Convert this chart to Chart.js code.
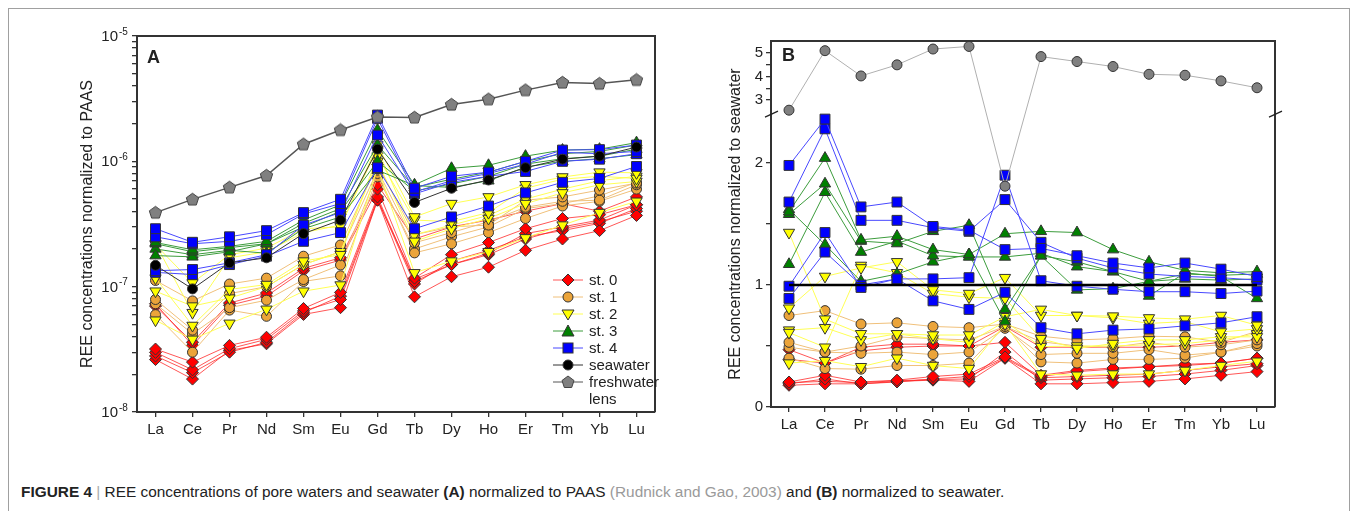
<!DOCTYPE html>
<html>
<head>
<meta charset="utf-8">
<script src="https://cdn.jsdelivr.net/npm/chart.js@4.4.1/dist/chart.umd.min.js"></script>
<style>
  body { margin: 0; background: #fff; width: 1357px; height: 511px; overflow: hidden; position: relative;
         font-family: "Liberation Sans", Arial, sans-serif; color: #222; }
  #frame { position: absolute; left: 8px; top: 8px; width: 1340px; height: 530px; border: 1px solid #a0a0a0; }
  .wrap { position: absolute; }
  #wa { left: 74px; top: 20px; }
  #wb { left: 722px; top: 20px; }
  .tag { position: absolute; font-weight: bold; font-size: 18px; line-height: 18px; }
  #legend { position: absolute; left: 553px; top: 271px; font-size: 15px; line-height: 17px; }
  #legend div { display: flex; align-items: center; height: 17px; }
  #legend svg { margin-right: 6px; flex: none; }
  #legend .pad { padding-left: 36px; }
  #caption { position: absolute; left: 21px; top: 483px; font-size: 15.4px; white-space: nowrap; }
</style>
</head>
<body>
<div id="frame"></div>
<div class="wrap" id="wa"><canvas id="ca" width="596" height="430"></canvas></div>
<div class="wrap" id="wb"><canvas id="cb" width="568" height="425"></canvas></div>
<div class="tag" style="left:147px;top:48px">A</div>
<div class="tag" style="left:782px;top:46px">B</div>

<div id="legend">
  <div><svg width="30" height="14"><line x1="0" y1="7" x2="30" y2="7" stroke="rgba(255,30,30,0.75)"/><polygon points="15,1 21,7 15,13 9,7" fill="#ff0000" stroke="#333"/></svg>st. 0</div>
  <div><svg width="30" height="14"><line x1="0" y1="7" x2="30" y2="7" stroke="#f0c07a"/><circle cx="15" cy="7" r="5" fill="#eba43a" stroke="#333"/></svg>st. 1</div>
  <div><svg width="30" height="14"><line x1="0" y1="7" x2="30" y2="7" stroke="#ffff55"/><polygon points="9,3 21,3 15,13" fill="#ffff00" stroke="#333"/></svg>st. 2</div>
  <div><svg width="30" height="14"><line x1="0" y1="7" x2="30" y2="7" stroke="#3c9c3c"/><polygon points="15,1 21,12 9,12" fill="#008000" stroke="#333"/></svg>st. 3</div>
  <div><svg width="30" height="14"><line x1="0" y1="7" x2="30" y2="7" stroke="#4848ff"/><rect x="10" y="2" width="10" height="10" fill="#0000ff" stroke="#333"/></svg>st. 4</div>
  <div><svg width="30" height="14"><line x1="0" y1="7" x2="30" y2="7" stroke="#333"/><circle cx="15" cy="7" r="5" fill="#000" stroke="#333"/></svg>seawater</div>
  <div><svg width="30" height="14"><line x1="0" y1="7" x2="30" y2="7" stroke="#555"/><polygon points="15,1 21,5.5 18.7,12.5 11.3,12.5 9,5.5" fill="#808080" stroke="#444"/></svg>freshwater</div>
  <div class="pad">lens</div>
</div>

<div id="caption"><b>FIGURE 4</b> <span style="color:#aaa">|</span> REE concentrations of pore waters and seawater <b>(A)</b> normalized to PAAS <span style="color:#9a9a9a">(Rudnick and Gao, 2003)</span> and <b>(B)</b> normalized to seawater.</div>

<script>
const REE = ['La','Ce','Pr','Nd','Sm','Eu','Gd','Tb','Dy','Ho','Er','Tm','Yb','Lu'];

// ---- panel A: normalized to PAAS ----
const st0_A = [
  [7.0e-8, 3.6e-8, 7.4e-8, 8.9e-8, 1.40e-7, 1.70e-7, 6.5e-7, 2.4e-7, 3.0e-7, 3.4e-7, 4.0e-7, 4.6e-7, 4.0e-7, 5.2e-7],
  [7.3e-8, 3.4e-8, 7.1e-8, 8.4e-8, 1.34e-7, 1.63e-7, 6.0e-7, 1.17e-7, 1.8e-7, 2.25e-7, 2.9e-7, 3.5e-7, 3.75e-7, 4.5e-7],
  [3.18e-8, 2.5e-8, 3.4e-8, 3.95e-8, 6.7e-8, 9.0e-8, 5.2e-7, 1.1e-7, 1.5e-7, 1.85e-7, 2.65e-7, 3.0e-7, 3.4e-7, 4.5e-7],
  [2.99e-8, 2.17e-8, 3.2e-8, 3.8e-8, 6.4e-8, 7.9e-8, 4.9e-7, 8.3e-8, 1.2e-7, 1.43e-7, 1.95e-7, 2.4e-7, 2.8e-7, 3.7e-7],
  [2.8e-8, 2.06e-8, 3.0e-8, 3.6e-8, 6.2e-8, 8.4e-8, 5.0e-7, 1.05e-7, 1.6e-7, 1.95e-7, 2.5e-7, 2.8e-7, 3.2e-7, 4.2e-7],
  [2.62e-8, 1.83e-8, 3.1e-8, 3.5e-8, 6.0e-8, 6.8e-8, 4.9e-7, 1.15e-7, 1.5e-7, 1.8e-7, 2.4e-7, 2.9e-7, 3.3e-7, 4.0e-7]
];
const st1_A = [
  [1.12e-7, 7.7e-8, 1.05e-7, 1.17e-7, 1.75e-7, 2.15e-7, 9.5e-7, 2.6e-7, 3.0e-7, 3.1e-7, 4.9e-7, 5.2e-7, 5.9e-7, 6.7e-7],
  [7.9e-8, 4.5e-8, 8.8e-8, 1.0e-7, 1.5e-7, 1.9e-7, 8.5e-7, 2.24e-7, 2.7e-7, 3.3e-7, 4.3e-7, 4.8e-7, 4.9e-7, 6.5e-7],
  [7.3e-8, 4.2e-8, 6.8e-8, 7.8e-8, 1.14e-7, 1.49e-7, 8.0e-7, 1.86e-7, 2.2e-7, 2.7e-7, 3.5e-7, 4.4e-7, 4.8e-7, 6.0e-7],
  [5.98e-8, 3.0e-8, 6.5e-8, 5.8e-8, 1.1e-7, 1.22e-7, 7.5e-7, 2.0e-7, 2.5e-7, 3.0e-7, 4.2e-7, 4.6e-7, 5.3e-7, 6.8e-7]
];
const st2_A = [
  [2.16e-7, 1.07e-7, 1.8e-7, 2.03e-7, 2.9e-7, 3.0e-7, 1.35e-6, 3.6e-7, 4.6e-7, 5.2e-7, 6.5e-7, 7.5e-7, 8.2e-7, 8.1e-7],
  [1.17e-7, 4.9e-8, 9.5e-8, 1.04e-7, 1.6e-7, 1.8e-7, 1.1e-6, 3.4e-7, 3.3e-7, 3.9e-7, 6.1e-7, 7.2e-7, 7.6e-7, 7.3e-7],
  [9.2e-8, 7.0e-8, 8.1e-8, 1.0e-7, 1.5e-7, 1.9e-7, 1.0e-6, 2.3e-7, 2.9e-7, 3.5e-7, 4.6e-7, 5.6e-7, 6.5e-7, 6.9e-7],
  [5.4e-8, 3.8e-8, 5.1e-8, 6.6e-8, 9.2e-8, 1.03e-7, 8.9e-7, 1.29e-7, 1.6e-7, 1.9e-7, 2.45e-7, 3.1e-7, 3.9e-7, 4.8e-7],
  [2.2e-7, 6.2e-8, 1.7e-7, 1.9e-7, 2.7e-7, 3.1e-7, 1.25e-6, 2.6e-7, 3.1e-7, 3.7e-7, 5.0e-7, 6.0e-7, 7.0e-7, 7.6e-7]
];
const st3_A = [
  [2.25e-7, 1.97e-7, 2.1e-7, 2.3e-7, 3.4e-7, 4.5e-7, 1.78e-6, 6.5e-7, 8.8e-7, 9.3e-7, 1.1e-6, 1.23e-6, 1.25e-6, 1.41e-6],
  [2.2e-7, 1.9e-7, 2.05e-7, 2.2e-7, 3.2e-7, 4.2e-7, 1.35e-6, 6.2e-7, 7.2e-7, 8.2e-7, 1.0e-6, 1.15e-6, 1.2e-6, 1.35e-6],
  [1.77e-7, 1.73e-7, 1.9e-7, 2.2e-7, 3.0e-7, 4.0e-7, 1.0e-6, 5.8e-7, 6.6e-7, 7.6e-7, 9.5e-7, 1.05e-6, 1.1e-6, 1.25e-6],
  [2.0e-7, 1.8e-7, 1.95e-7, 1.85e-7, 2.9e-7, 3.6e-7, 8.5e-7, 6.4e-7, 6.2e-7, 7.0e-7, 9.0e-7, 1.0e-6, 1.05e-6, 1.13e-6]
];
const st4_A = [
  [2.9e-7, 2.26e-7, 2.5e-7, 2.8e-7, 3.9e-7, 4.98e-7, 2.34e-6, 6.1e-7, 7.6e-7, 8.2e-7, 1.0e-6, 1.23e-6, 1.24e-6, 1.35e-6],
  [2.5e-7, 2.2e-7, 2.3e-7, 2.6e-7, 3.8e-7, 4.6e-7, 2.2e-6, 5.7e-7, 7.0e-7, 8.0e-7, 9.5e-7, 1.18e-6, 1.15e-6, 1.2e-6],
  [1.34e-7, 1.37e-7, 1.55e-7, 1.8e-7, 3.1e-7, 3.9e-7, 1.62e-6, 5.5e-7, 6.8e-7, 7.6e-7, 8.3e-7, 1.0e-6, 1.04e-6, 1.15e-6],
  [1.3e-7, 1.25e-7, 1.5e-7, 1.75e-7, 2.3e-7, 2.7e-7, 8.9e-7, 2.9e-7, 3.6e-7, 4.4e-7, 5.6e-7, 6.8e-7, 7.3e-7, 9.1e-7]
];
const seawater_A = [1.48e-7, 9.6e-8, 1.55e-7, 1.7e-7, 2.65e-7, 3.4e-7, 1.25e-6, 4.7e-7, 6.1e-7, 7.1e-7, 8.9e-7, 1.04e-6, 1.1e-6, 1.3e-6];
const fresh_A    = [3.9e-7, 4.97e-7, 6.2e-7, 7.7e-7, 1.37e-6, 1.78e-6, 2.26e-6, 2.24e-6, 2.84e-6, 3.13e-6, 3.7e-6, 4.26e-6, 4.17e-6, 4.47e-6];
const A_DECADES  = [-8, -7, -6, -5];

// ---- panel B: normalized to seawater ----
const st0_B = [
  [0.47, 0.36, 0.49, 0.515, 0.515, 0.50, 0.66, 0.49, 0.49, 0.49, 0.49, 0.50, 0.53, 0.55],
  [0.39, 0.36, 0.46, 0.49, 0.50, 0.50, 0.53, 0.26, 0.30, 0.32, 0.33, 0.35, 0.36, 0.40],
  [0.205, 0.26, 0.205, 0.22, 0.25, 0.27, 0.41, 0.25, 0.29, 0.31, 0.33, 0.34, 0.36, 0.40],
  [0.19, 0.23, 0.19, 0.205, 0.23, 0.25, 0.40, 0.24, 0.25, 0.26, 0.27, 0.30, 0.33, 0.355],
  [0.178, 0.19, 0.19, 0.21, 0.22, 0.21, 0.40, 0.19, 0.19, 0.20, 0.21, 0.23, 0.26, 0.29],
  [0.20, 0.21, 0.20, 0.215, 0.225, 0.23, 0.45, 0.22, 0.23, 0.24, 0.25, 0.27, 0.30, 0.34]
];
const st1_B = [
  [0.75, 0.79, 0.68, 0.69, 0.66, 0.65, 0.68, 0.58, 0.55, 0.56, 0.58, 0.575, 0.53, 0.62],
  [0.53, 0.45, 0.50, 0.575, 0.56, 0.55, 0.66, 0.535, 0.50, 0.49, 0.53, 0.49, 0.51, 0.55],
  [0.49, 0.45, 0.44, 0.45, 0.43, 0.45, 0.645, 0.43, 0.44, 0.44, 0.47, 0.425, 0.45, 0.52],
  [0.40, 0.315, 0.31, 0.34, 0.34, 0.36, 0.66, 0.37, 0.36, 0.39, 0.39, 0.40, 0.45, 0.50]
];
const st2_B = [
  [1.43, 0.72, 0.60, 0.60, 0.59, 0.59, 0.74, 0.80, 0.75, 0.745, 0.73, 0.72, 0.75, 0.67],
  [0.81, 1.07, 1.14, 1.19, 0.96, 0.93, 1.06, 0.75, 0.75, 0.73, 0.685, 0.70, 0.615, 0.64],
  [0.61, 0.49, 1.16, 1.10, 0.93, 0.90, 0.89, 0.56, 0.48, 0.52, 0.55, 0.55, 0.575, 0.575],
  [0.36, 0.38, 0.33, 0.40, 0.34, 0.315, 0.68, 0.27, 0.26, 0.27, 0.27, 0.30, 0.34, 0.375],
  [0.63, 0.65, 0.55, 0.60, 0.56, 0.53, 0.70, 0.495, 0.50, 0.50, 0.51, 0.52, 0.55, 0.60]
];
const st3_B = [
  [1.60, 2.04, 1.37, 1.40, 1.29, 1.25, 1.42, 1.44, 1.43, 1.29, 1.19, 1.12, 1.10, 1.11],
  [1.58, 1.83, 1.36, 1.34, 1.44, 1.49, 0.80, 1.24, 1.19, 1.11, 1.03, 1.09, 1.08, 1.09],
  [1.17, 1.76, 1.27, 1.36, 1.24, 1.23, 1.23, 1.26, 1.15, 1.11, 0.91, 1.10, 1.07, 0.89],
  [1.62, 1.33, 1.03, 1.09, 1.19, 1.25, 0.70, 1.24, 0.96, 0.97, 1.03, 1.05, 1.04, 1.05]
];
const st4_B = [
  [1.98, 2.36, 1.64, 1.68, 1.48, 1.45, 1.29, 1.30, 1.24, 1.18, 1.14, 1.18, 1.13, 1.07],
  [1.68, 2.28, 1.53, 1.53, 1.47, 1.44, 1.70, 1.35, 1.22, 1.14, 1.09, 1.07, 1.06, 1.04],
  [0.99, 1.43, 0.98, 1.05, 1.05, 1.06, 1.90, 1.035, 0.99, 0.965, 0.945, 0.945, 0.93, 0.95],
  [0.89, 1.27, 1.00, 1.05, 0.87, 0.80, 0.94, 0.65, 0.60, 0.63, 0.64, 0.665, 0.69, 0.74]
];
const seawater_B = [1, 1, 1, 1, 1, 1, 1, 1, 1, 1, 1, 1, 1, 1];
const fresh_B    = [2.57, 5.09, 4.02, 4.49, 5.16, 5.27, 1.81, 4.84, 4.63, 4.42, 4.09, 4.05, 3.81, 3.52];

// axis break of panel B
const B_BREAK = 2.4, B_TOP = 5.5, B_SPLIT = 0.8;
const B_TICKS = [0, 0.5, 1, 1.5, 2, 3, 3.5, 4, 4.5, 5];

Chart.defaults.font.family = '"Liberation Sans", Arial, sans-serif';
Chart.defaults.color = '#222';

// pentagon marker for freshwater lens
const pent = document.createElement('canvas');
pent.width = 15; pent.height = 15;
(function () {
  const c = pent.getContext('2d');
  c.beginPath();
  for (let i = 0; i < 5; i++) {
    const a = -Math.PI / 2 + i * 2 * Math.PI / 5;
    c.lineTo(7.5 + 6.5 * Math.cos(a), 7.8 + 6.5 * Math.sin(a));
  }
  c.closePath();
  c.fillStyle = '#808080'; c.fill();
  c.strokeStyle = '#444'; c.lineWidth = 1; c.stroke();
})();

const ST = {
  st0: { fill: '#ff0000', line: 'rgba(255,30,30,0.75)', shape: 'rectRot', r: 6, rot: 0 },
  st1: { fill: '#eba43a', line: '#f0c07a', shape: 'circle', r: 5, rot: 0 },
  st2: { fill: '#ffff00', line: '#ffff55', shape: 'triangle', r: 6.5, rot: 180 },
  st3: { fill: '#008000', line: '#3c9c3c', shape: 'triangle', r: 6.5, rot: 0 },
  st4: { fill: '#0000ff', line: '#4848ff', shape: 'rect', r: 7, rot: 0 },
  sea: { fill: '#000000', line: '#333333', shape: 'circle', r: 5, rot: 0 }
};

function ds(data, s, extra) {
  return Object.assign({
    data: data, borderColor: s.line, borderWidth: 1, tension: 0, fill: false,
    pointStyle: s.shape, pointRadius: s.r, pointRotation: s.rot,
    pointBackgroundColor: s.fill, pointBorderColor: '#333', pointBorderWidth: 1
  }, extra || {});
}

const boxPlugin = {
  id: 'box',
  afterDraw(chart, args, opts) {
    const { ctx, chartArea: a } = chart;
    ctx.save();
    ctx.strokeStyle = '#333'; ctx.lineWidth = 2;
    ctx.beginPath();
    ctx.moveTo(a.left, a.top); ctx.lineTo(a.right, a.top); ctx.lineTo(a.right, a.bottom);
    ctx.stroke();
    if (opts.breakAt != null) {
      const y = chart.scales.y.getPixelForValue(opts.breakAt);
      ctx.lineWidth = 1.3; ctx.strokeStyle = '#222';
      [a.left, a.right].forEach(x => {
        ctx.beginPath(); ctx.moveTo(x - 6, y + 3); ctx.lineTo(x + 7, y - 3); ctx.stroke();
      });
    }
    // power-of-ten labels with raised exponent
    if (opts.decades) {
      const sc = chart.scales.y;
      ctx.fillStyle = '#222';
      ctx.textBaseline = 'middle';
      opts.decades.forEach(e => {
        const y = sc.getPixelForValue(Math.pow(10, e));
        const xr = a.left - 19;
        ctx.font = '15px "Liberation Sans", Arial, sans-serif';
        ctx.textAlign = 'right';
        ctx.fillText('10', xr, y + 1);
        ctx.font = '10px "Liberation Sans", Arial, sans-serif';
        ctx.textAlign = 'left';
        ctx.fillText(String(e), xr + 1, y - 4);
      });
    }
    ctx.restore();
  }
};

class BrokenScale extends Chart.LinearScale {
  getPixelForValue(v) {
    const d = v <= B_BREAK ? v / B_BREAK * B_SPLIT
                           : B_SPLIT + (v - B_BREAK) / (B_TOP - B_BREAK) * (1 - B_SPLIT);
    return this.getPixelForDecimal(d);
  }
  getValueForPixel(p) {
    const d = this.getDecimalForPixel(p);
    return d <= B_SPLIT ? d / B_SPLIT * B_BREAK
                        : B_BREAK + (d - B_SPLIT) / (1 - B_SPLIT) * (B_TOP - B_BREAK);
  }
}
BrokenScale.id = 'broken';
BrokenScale.defaults = Chart.LinearScale.defaults;
Chart.register(BrokenScale);

function xAxis() {
  return {
    type: 'category', offset: true,
    grid: { drawOnChartArea: false, drawTicks: true, tickLength: 5, color: '#333', lineWidth: 1.3, offset: false },
    border: { display: true, color: '#333', width: 2 },
    ticks: { font: { size: 15 }, color: '#222', maxRotation: 0, autoSkip: false, padding: 4 },
    afterFit: s => { s.height = 38; }
  };
}

function stationSets(groups) {
  // index 0 is drawn on top
  const out = [];
  groups.forEach(([rows, s]) => rows.forEach(r => out.push(ds(r, s))));
  return out;
}

// ---- chart A ----
new Chart(document.getElementById('ca'), {
  type: 'line',
  data: {
    labels: REE,
    datasets: [
      ds(fresh_A, { line: '#555', fill: '#808080', shape: pent, r: 7, rot: 0 }, { borderWidth: 1.5 }),
      ds(seawater_A, ST.sea),
      ...stationSets([[st4_A, ST.st4], [st3_A, ST.st3], [st2_A, ST.st2], [st1_A, ST.st1], [st0_A, ST.st0]])
    ]
  },
  options: {
    responsive: false, animation: false, events: [],
    layout: { padding: { top: 16, right: 15, left: 0, bottom: 0 } },
    plugins: { legend: { display: false }, tooltip: { enabled: false }, box: { decades: A_DECADES } },
    scales: {
      x: xAxis(),
      y: {
        type: 'logarithmic', min: 1e-8, max: 1e-5,
        grid: { drawOnChartArea: false, drawTicks: true, tickLength: 5, color: '#333', lineWidth: 1.3 },
        border: { display: true, color: '#333', width: 2 },
        afterBuildTicks: s => {
          const t = [];
          for (let e = -8; e <= -6; e++) for (let m = 1; m <= 9; m++) t.push({ value: Number((m * Math.pow(10, e)).toPrecision(3)), major: m === 1 });
          t.push({ value: 1e-5, major: true });
          s.ticks = t;
        },
        ticks: { autoSkip: false, font: { size: 14 }, padding: 3, callback: () => '' },
        title: { display: true, text: 'REE concentrations normalized to PAAS', font: { size: 16 }, color: '#222', padding: { top: 4, bottom: 4 } },
        afterFit: s => { s.width = 63; }
      }
    }
  },
  plugins: [boxPlugin]
});

// ---- chart B ----
new Chart(document.getElementById('cb'), {
  type: 'line',
  data: {
    labels: REE,
    datasets: [
      ds(seawater_B, ST.sea, { borderColor: '#000', borderWidth: 2.5, pointRadius: 0 }),
      ds(fresh_B, { line: '#b0b0b0', fill: '#808080', shape: 'circle', r: 5, rot: 0 }),
      ...stationSets([[st4_B, ST.st4], [st3_B, ST.st3], [st2_B, ST.st2], [st1_B, ST.st1], [st0_B, ST.st0]])
    ]
  },
  options: {
    responsive: false, animation: false, events: [],
    layout: { padding: { top: 21, right: 15, left: 0, bottom: 0 } },
    plugins: { legend: { display: false }, tooltip: { enabled: false }, box: { breakAt: B_BREAK } },
    scales: {
      x: xAxis(),
      y: {
        type: 'broken', min: 0, max: B_TOP,
        grid: { drawOnChartArea: false, drawTicks: true, tickLength: 5, color: '#333', lineWidth: 1.3 },
        border: { display: true, color: '#333', width: 2 },
        afterBuildTicks: s => { s.ticks = B_TICKS.map(v => ({ value: v })); },
        ticks: {
          autoSkip: false, font: { size: 15 }, color: '#222', padding: 3,
          callback: v => Number.isInteger(v) ? String(v) : ''
        },
        title: { display: true, text: 'REE concentrations normalized to seawater', font: { size: 16 }, color: '#222', padding: { top: 4, bottom: 4 } },
        afterFit: s => { s.width = 49; }
      }
    }
  },
  plugins: [boxPlugin]
});
</script>
</body>
</html>
